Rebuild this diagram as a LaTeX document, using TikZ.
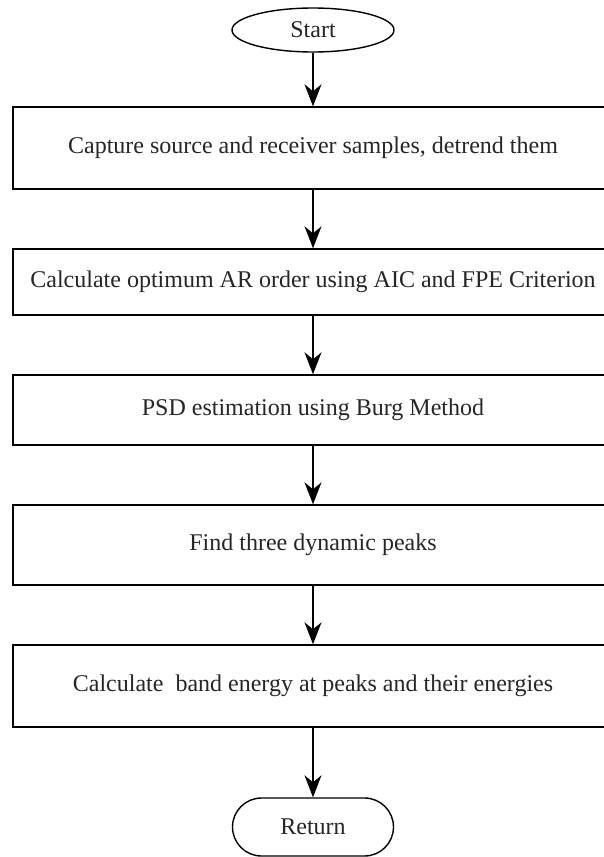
\documentclass[tikz,border=0pt]{standalone}
\usepackage{fontspec}
\setmainfont{Liberation Serif}
\usetikzlibrary{shapes.geometric,arrows.meta}
\tikzset{
  every node/.style={font=\fontsize{24}{28}\selectfont, text=black!85},
  stepbox/.style={draw, line width=1.4pt, rectangle, minimum width=600pt, inner sep=0pt},
  terminal/.style={draw, line width=1.4pt, ellipse, minimum width=162pt, minimum height=44pt, inner sep=0pt},
  endcap/.style={draw, line width=1.4pt, rectangle, rounded corners=29pt, minimum width=161pt, minimum height=58pt, inner sep=0pt},
  flow/.style={draw, line width=1.4pt, -{Stealth[length=22pt, width=17pt, inset=7pt]}}
}
\begin{document}
\begin{tikzpicture}[x=1pt, y=-1pt]
  \clip (0,0) rectangle (604,857);
  \fill[white] (0,0) rectangle (604,857);

  \node[terminal] (start) at (313,30) {Start};
  \node[stepbox, minimum height=82pt] (capture) at (313,148) {Capture source and receiver samples, detrend them};
  \node[stepbox, minimum height=66pt] (order) at (313,282) {Calculate optimum AR order using AIC and FPE Criterion};
  \node[stepbox, minimum height=70pt] (psd) at (313,410) {PSD estimation using Burg Method};
  \node[stepbox, minimum height=80pt] (peaks) at (313,545) {Find three dynamic peaks};
  \node[stepbox, minimum height=82pt] (band) at (313,686) {Calculate\ \ band energy at peaks and their energies};
  \node[endcap] (ret) at (313,827) {Return};

  \draw[flow] (start.south) -- (capture.north);
  \draw[flow] (capture.south) -- (order.north);
  \draw[flow] (order.south) -- (psd.north);
  \draw[flow] (psd.south) -- (peaks.north);
  \draw[flow] (peaks.south) -- (band.north);
  \draw[flow] (band.south) -- (ret.north);
\end{tikzpicture}
\end{document}
